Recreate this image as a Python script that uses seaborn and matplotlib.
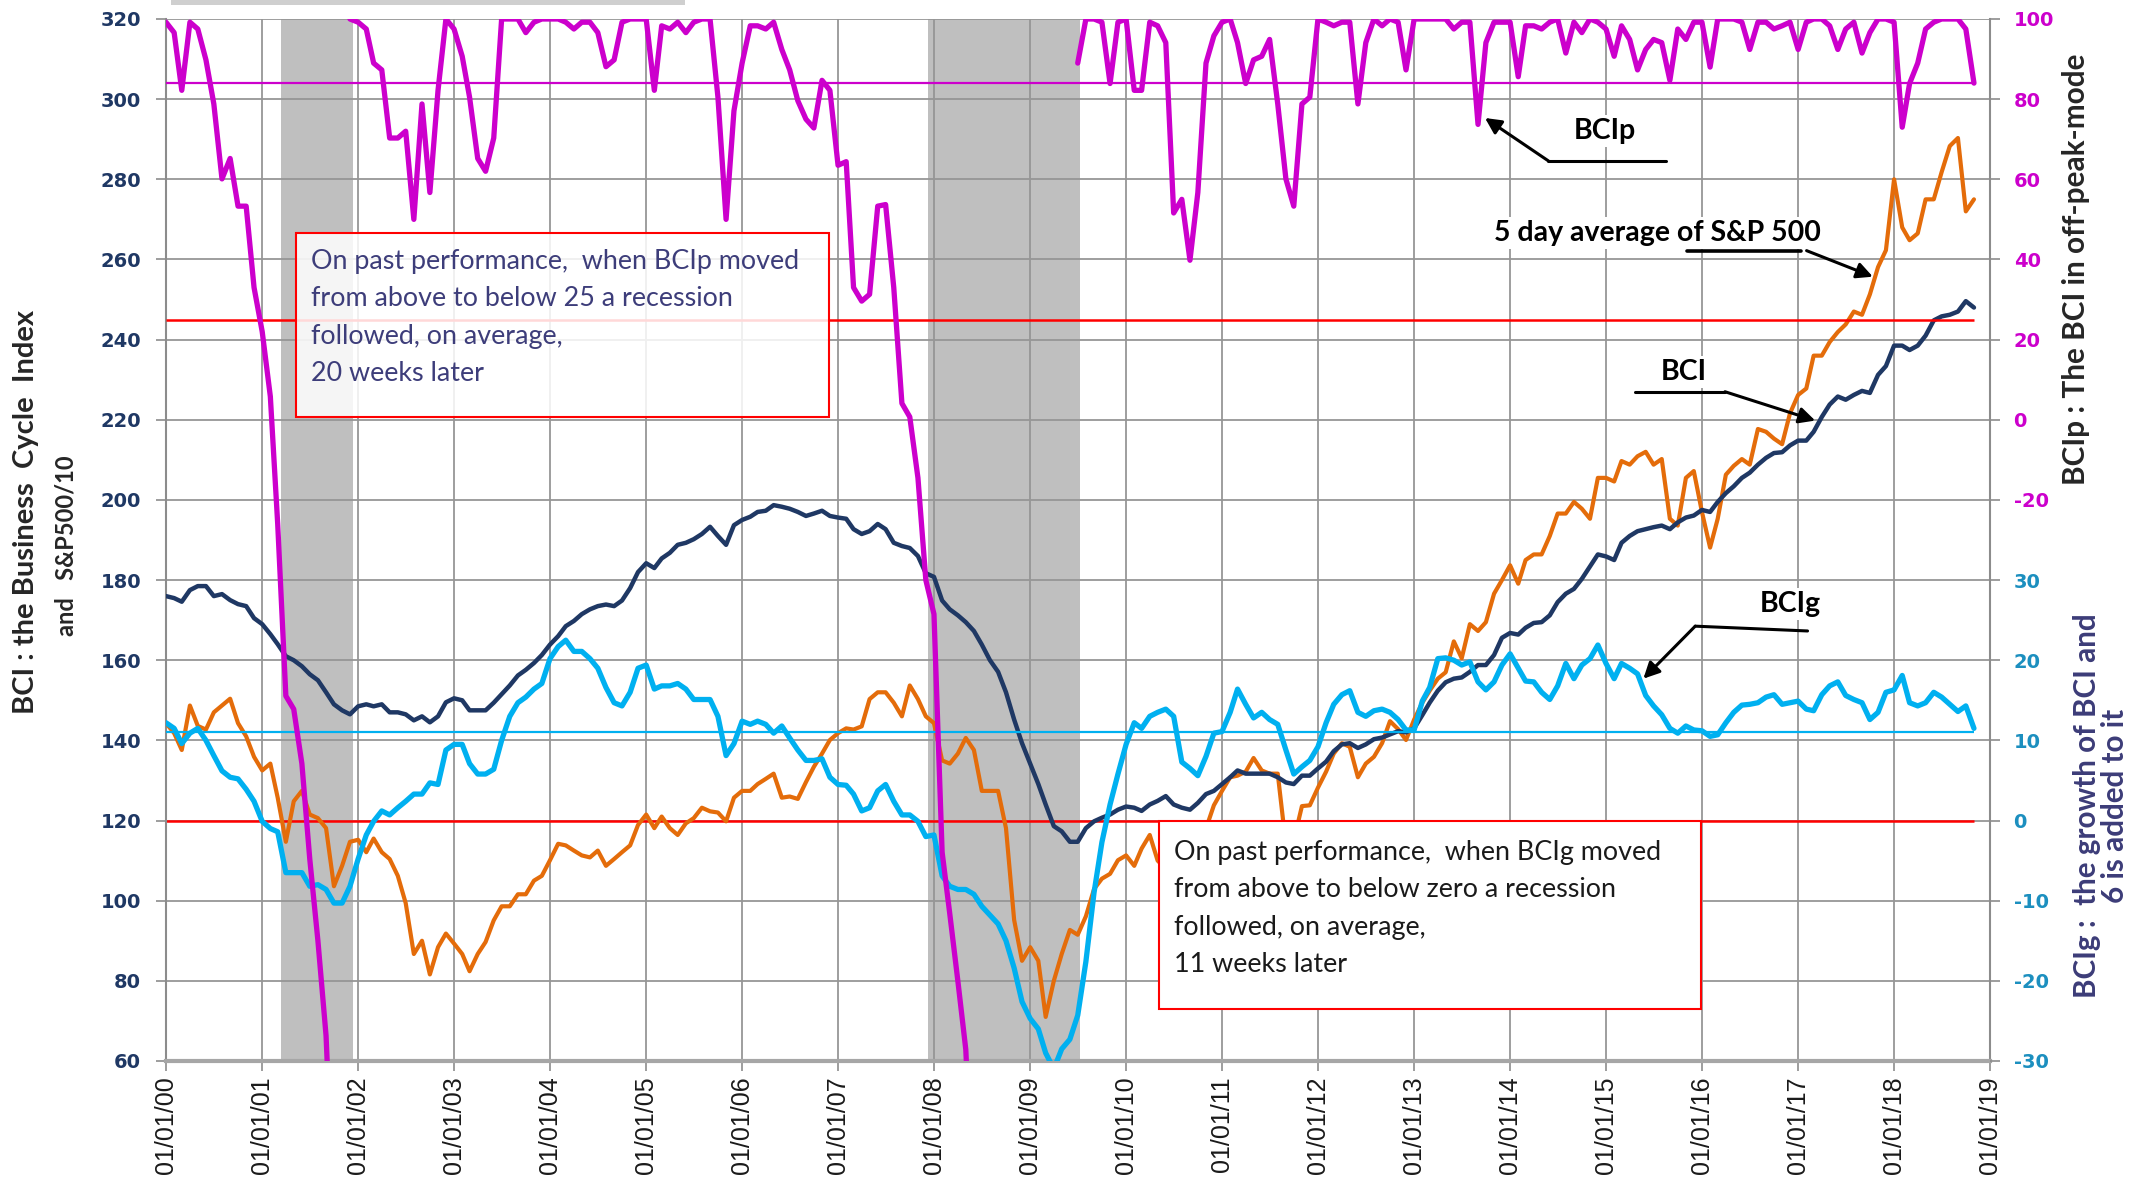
import numpy as np
import pandas as pd
import matplotlib
matplotlib.use("Agg")
import matplotlib.pyplot as plt
import matplotlib.dates as mdates
from matplotlib.patches import Rectangle
import seaborn as sns

nan = np.nan

# monthly readings, Jan 2000 .. Nov 2018
months = pd.date_range("2000-01-01", "2018-11-01", freq="MS")

# BCI (left axis)
bci = [
    176, 175.5, 174.6, 177.5, 178.5, 178.5, 176, 176.5, 175, 174, 173.5, 170.5,
    169, 166.5, 164, 161, 160, 158.5, 156.5, 155, 152, 149, 147.5, 146.5,
    148.5, 149, 148.5, 149, 147, 147, 146.5, 145, 146, 144.5, 146, 149.5,
    150.5, 150, 147.5, 147.5, 147.5, 149.4, 151.5, 153.7, 156.2, 157.6, 159.3, 161.3,
    163.9, 166, 168.5, 169.8, 171.5, 172.7, 173.5, 173.9, 173.5, 174.9, 178, 182,
    184.2, 183, 185.4, 186.8, 188.8, 189.3, 190.2, 191.5, 193.3, 191, 188.8, 193.7,
    195, 195.8, 197, 197.3, 198.7, 198.3, 197.8, 197, 196, 196.6, 197.3, 196,
    195.6, 195.3, 192.7, 191.5, 192.2, 194, 192.7, 189.3, 188.5, 188, 186, 181.7,
    180.8, 174.9, 172.7, 171.2, 169.5, 167.3, 163.9, 160, 157.1, 152, 145.2, 139.3,
    134.2, 129.1, 124, 118.6, 117.3, 114.7, 114.7, 118.1, 119.8, 120.7, 121.5, 122.7,
    123.5, 123.2, 122.4, 124, 124.9, 126.1, 124, 123.2, 122.7, 124.4, 126.6, 127.4,
    129.1, 130.8, 132.5, 131.7, 131.7, 131.7, 131.7, 130.8, 129.5, 129.1, 131.2, 131.2,
    133, 134.7, 137.3, 139, 139.3, 138.1, 139, 140.3, 140.7, 141.5, 142.3, 142,
    143, 146.3, 149.4, 152.4, 154.5, 155.4, 155.7, 157.1, 158.8, 158.8, 161.3, 165.6,
    166.8, 166.4, 168.1, 169.3, 169.5, 171.2, 174.5, 176.6, 177.8, 180.3, 183.4, 186.4,
    185.9, 185, 189.3, 191, 192.2, 192.7, 193.2, 193.6, 192.7, 194.4, 195.6, 196.1,
    197.5, 197, 199.5, 201.7, 203.4, 205.5, 206.8, 208.8, 210.5, 211.7, 211.9, 213.6,
    214.8, 214.8, 217, 220.7, 223.8, 225.8, 225, 226.2, 227.2, 226.7, 231.2, 233.4,
    238.5, 238.5, 237.4, 238.5, 241, 244.8, 245.8, 246.2, 247, 249.6, 248,
]

# 5 day average of S&P 500 divided by 10 (left axis)
sp500_div10 = [
    144.3, 141.8, 137.6, 148.7, 143.6, 142.7, 147, 148.7, 150.4, 144.3, 141, 135.9,
    132.5, 134.2, 125.7, 114.7, 124.8, 127.4, 121.5, 120.6, 118.1, 103.6, 108.7, 114.7,
    115.2, 112.1, 115.5, 112.1, 110.4, 106.2, 99.4, 86.7, 90, 81.6, 88.4, 91.8,
    89.3, 86.7, 82.4, 86.7, 89.7, 95.1, 98.6, 98.6, 101.6, 101.6, 105, 106.2,
    110.1, 114.2, 113.8, 112.5, 111.3, 110.8, 112.5, 108.7, 110.4, 112.1, 113.8, 118.9,
    121.5, 118.1, 121, 118.1, 116.4, 119.3, 120.6, 123.2, 122.3, 122, 119.8, 125.7,
    127.4, 127.4, 129.1, 130.4, 131.7, 125.7, 126, 125.4, 129.6, 133.4, 136.7, 140.1,
    141.8, 143, 142.7, 143.5, 150.3, 152, 152, 149.4, 146, 153.7, 150.3, 146,
    144.3, 135, 134.2, 136.7, 140.6, 137.6, 127.4, 127.4, 127.4, 118.1, 95.2, 85,
    88.4, 85, 71, 80, 86.7, 92.7, 91.5, 96.1, 102.9, 105.5, 106.7, 110.1,
    111.3, 108.7, 113, 116.4, 110, 108, 105, 109, 110, 114, 118, 123.8,
    127.4, 130.8, 131.2, 132.2, 135.6, 132.5, 131.7, 131.7, 114, 115, 123.6, 123.8,
    128.2, 132.2, 136.7, 139.3, 138.4, 130.8, 134.2, 135.9, 139.3, 144.8, 142.8, 140.1,
    145.2, 149.4, 152.4, 155.4, 157, 164.7, 160.5, 169, 167.3, 169.5, 176.6, 180,
    183.7, 179.1, 185, 186.4, 186.4, 191, 196.6, 196.6, 199.5, 197.8, 195.3, 205.5,
    205.5, 204.6, 209.7, 208.8, 210.9, 212, 208.8, 210.2, 195.3, 193.6, 205.5, 207.2,
    197, 188.1, 195.3, 206.3, 208.5, 210.2, 208.8, 217.7, 217, 215.3, 213.9, 221.6,
    226.2, 227.8, 236, 236, 239.4, 241.9, 243.8, 247, 246.2, 251.3, 258.1, 262.3,
    280, 268, 264.8, 266.5, 275, 275, 281.8, 288.3, 290.3, 272, 275,
]

# BCIg (lower right axis)
bcig = [
    12.2, 11.5, 9.6, 10.9, 11.5, 10, 8.1, 6.2, 5.4, 5.2, 3.9, 2.4,
    -0.1, -1, -1.4, -6.5, -6.5, -6.5, -8.2, -8, -8.6, -10.3, -10.3, -8.2,
    -4.8, -1.8, -0.1, 1.2, 0.7, 1.6, 2.4, 3.3, 3.3, 4.7, 4.5, 8.8,
    9.5, 9.5, 7.1, 5.8, 5.8, 6.4, 10, 13, 14.7, 15.4, 16.4, 17.1,
    20.2, 21.7, 22.5, 21.1, 21.1, 20.2, 19, 16.6, 14.7, 14.3, 16, 19,
    19.4, 16.4, 16.8, 16.8, 17.1, 16.4, 15.1, 15.1, 15.1, 13, 8.1, 9.6,
    12.4, 12, 12.4, 12, 10.9, 11.8, 10.3, 8.8, 7.5, 7.5, 7.7, 5.4,
    4.5, 4.4, 3.3, 1.2, 1.6, 3.7, 4.5, 2.4, 0.7, 0.7, -0.1, -2,
    -1.8, -6.9, -8.2, -8.6, -8.6, -9.2, -10.7, -11.8, -12.9, -15, -18.4, -22.6,
    -24.7, -26, -29, -31, -28.5, -27.3, -24.3, -17.6, -9, -2.7, 2, 5.8,
    9.5, 12.2, 11.5, 13, 13.5, 13.9, 13, 7.3, 6.5, 5.6, 8, 10.9,
    11.1, 13.5, 16.4, 14.5, 12.8, 13.5, 12.6, 12, 8.8, 5.8, 6.7, 7.5,
    9.2, 12.2, 14.5, 15.7, 16.2, 13.5, 13, 13.7, 13.9, 13.5, 12.6, 11.3,
    11.3, 14.9, 16.6, 20.2, 20.3, 20, 19.4, 19.8, 17.3, 16.3, 17.3, 19.4,
    20.8, 19, 17.4, 17.3, 16, 15.1, 16.8, 19.6, 17.7, 19.4, 20.2, 21.9,
    19.6, 17.7, 19.6, 19, 18.3, 15.6, 14.3, 13.2, 11.5, 10.9, 11.8, 11.3,
    11.2, 10.5, 10.7, 12.2, 13.5, 14.4, 14.5, 14.7, 15.4, 15.7, 14.5, 14.7,
    14.9, 13.9, 13.7, 15.7, 16.8, 17.3, 15.6, 15.1, 14.7, 12.6, 13.5, 16,
    16.3, 18.1, 14.7, 14.3, 14.7, 16, 15.4, 14.5, 13.6, 14.3, 11.5,
]

# BCIp (upper right axis); nan where the line is off the chart
bcip = [
    99.2, 96.6, 82.2, 99.2, 97.5, 89.8, 78.8, 60.1, 65.2, 53.3, 53.3, 33,
    22, 5.8, -26, -68.9, -72.2, -85.8, -109.6, -130, -153.7, -200, nan, 100,
    99.2, 97.5, 89, 87.3, 70.3, 70.3, 72, 50, 78.8, 56.7, 82.2, 100,
    97.5, 90.7, 80.5, 65.2, 62, 70.3, 100, 100, 100, 96.6, 99.2, 100,
    100, 100, 99.2, 97.5, 99.2, 99.2, 96.6, 88.1, 89.8, 99.2, 100, 100,
    100, 82.2, 98.3, 97.5, 99.2, 96.6, 99.2, 100, 100, 80.5, 50, 77.1,
    89, 98.3, 98.3, 97.5, 99.2, 92.4, 87.3, 79.6, 75, 72.8, 84.7, 82.2,
    63.5, 64.4, 33, 29.6, 31.3, 53.3, 53.7, 33, 4.1, 0.7, -14.5, -40,
    -48.5, -107.9, -123.2, -140.1, -157.1, -200, nan, nan, nan, nan, nan, nan,
    nan, nan, nan, nan, nan, nan, 89, 100, 100, 99.2, 83.9, 99.2,
    100, 82.2, 82.2, 99.2, 98.3, 94.1, 51.6, 55, 39.8, 56.7, 89, 95.8,
    99.2, 100, 94.1, 83.9, 89.8, 90.7, 94.9, 78.8, 60.1, 53.3, 78.8, 80.5,
    100, 99.2, 98.3, 99.2, 99.2, 78.8, 94.1, 100, 98.3, 100, 99.2, 87.3,
    100, 100, 100, 100, 100, 97.5, 99.2, 99.2, 73.7, 94.1, 99.2, 99.2,
    99.2, 85.6, 98.3, 98.3, 97.5, 99.2, 100, 91.5, 99.2, 96.6, 100, 99.2,
    97.5, 90.7, 98.3, 94.9, 87.3, 92.4, 94.9, 94.1, 84.7, 97.5, 94.9, 99.2,
    99.2, 88, 100, 100, 100, 99.2, 92.4, 99.2, 99.2, 97.5, 98.3, 99.2,
    92.4, 99.2, 100, 100, 98.3, 92.4, 97.5, 99.2, 91.5, 96.6, 100, 100,
    99.2, 73, 83.9, 89, 97.5, 99.2, 100, 100, 100, 97.5, 84,
]

bcip_trigger = 25
bcip_mean = 84
bcig_trigger = 0
bcig_mean = 11

recessions = [("2001-03-15", "2001-12-12"), ("2007-12-10", "2009-07-08")]
year_ticks = pd.date_range("2000-01-01", "2019-01-01", freq="YS")
left_ticks = list(range(60, 321, 20))
bcip_ticks = [-20, 0, 20, 40, 60, 80, 100]
bcig_ticks = [-30, -20, -10, 0, 10, 20, 30]

box1_text = ("On past performance,  when BCIp moved\nfrom above to below 25 a recession\n"
             "followed, on average,\n20 weeks later")
box2_text = ("On past performance,  when BCIg moved\nfrom above to below zero a recession\n"
             "followed, on average,\n11 weeks later")

NAVY = "#1F3864"
ORANGE = "#E46C0A"
CYAN = "#00B0F0"
PINK = "#CC00CC"
RED = "#FF0000"
GRID = "#969696"
LABEL_FONT = ["Lato", "DejaVu Sans"]

sns.set_style("white")
plt.rcParams["font.family"] = ["DejaVu Sans"]

W, H = 2146, 1195
fig = plt.figure(figsize=(W / 100, H / 100), dpi=100)
ax = fig.add_axes([166 / W, 1 - 1061 / H, (1990 - 166) / W, (1061 - 19) / H])
ax_g = ax.twinx()
ax_p = ax.twinx()

df = pd.DataFrame({"date": months, "bci": bci, "sp": sp500_div10,
                   "bcig": bcig, "bcip": bcip})
df["seg"] = df["bcip"].isna().cumsum()
dfp = df.dropna(subset=["bcip"])


def yr(y):
    return mdates.date2num(pd.Timestamp("2000-01-01")) + (y - 2000) * 365.25


# recessions
for a, b in recessions:
    ax.axvspan(pd.Timestamp(a), pd.Timestamp(b), color="#BFBFBF", lw=0, zorder=0.2)

ax.hlines(120, months[0], months[-1], color=RED, lw=1.8, zorder=2)
ax_p.hlines(bcip_trigger, months[0], months[-1], color=RED, lw=1.8, zorder=1)
ax_p.hlines(bcip_mean, months[0], months[-1], color=PINK, lw=1.6, zorder=1)
ax_g.hlines(bcig_mean, months[0], months[-1], color=CYAN, lw=1.6, zorder=1)

sns.lineplot(data=df, x="date", y="sp", ax=ax, color=ORANGE, lw=3.0, legend=False, zorder=3)
sns.lineplot(data=df, x="date", y="bci", ax=ax, color=NAVY, lw=3.2, legend=False, zorder=4)
sns.lineplot(data=df, x="date", y="bcig", ax=ax_g, color=CYAN, lw=3.8, legend=False, zorder=3)
sns.lineplot(data=dfp, x="date", y="bcip", units="seg", estimator=None, ax=ax_p,
             color=PINK, lw=3.8, legend=False, zorder=3)

for a in (ax, ax_g, ax_p):
    a.set_xlabel("")
    a.set_ylabel("")

ax.set_xlim(year_ticks[0], year_ticks[-1])
ax.set_ylim(60, 320)
ax_p.set_ylim(-160, 100)
ax_g.set_ylim(-30, 100)

ax.grid(True, color=GRID, lw=1.3)
ax.set_axisbelow(True)
ax_g.grid(False)
ax_p.grid(False)

ax.set_yticks(left_ticks, labels=[str(t) for t in left_ticks], fontweight="bold",
              fontsize=14, color=NAVY)
ax.set_xticks(year_ticks, labels=[d.strftime("%m/%d/%y") for d in year_ticks],
              rotation=90, fontsize=18, family="Liberation Sans", color="#1a1a1a")
ax.tick_params(axis="y", left=True, length=7, width=1.2, color="#8c8c8c", pad=11)
ax.tick_params(axis="x", bottom=True, length=7, width=1.2, color="#8c8c8c", pad=4)

ax_p.set_yticks(bcip_ticks, labels=[str(t) for t in bcip_ticks], fontweight="bold",
                fontsize=14, color=PINK)
ax_g.set_yticks(bcig_ticks, labels=[str(t) for t in bcig_ticks], fontweight="bold",
                fontsize=14, color="#1C8FBF")
for a in (ax_p, ax_g):
    a.tick_params(axis="y", right=True, left=False, labelright=True, labelleft=False,
                  length=7, width=1.2, color="#8c8c8c", pad=10)
    for s in a.spines.values():
        s.set_visible(False)

ax.spines["top"].set_visible(False)
for s in ("left", "right"):
    ax.spines[s].set_color("#8c8c8c")
    ax.spines[s].set_linewidth(1.5)
ax.spines["bottom"].set_color("#a6a6a6")
ax.spines["bottom"].set_linewidth(3)

# text boxes (drawn on the top axes, in left-axis coordinates)
tr = ax.transData
ax_p.add_patch(Rectangle((yr(2001.354), 220.7), yr(2006.906) - yr(2001.354), 45.9,
                         transform=tr, facecolor="white", alpha=0.85, edgecolor="none", zorder=5))
ax_p.add_patch(Rectangle((yr(2001.354), 220.7), yr(2006.906) - yr(2001.354), 45.9,
                         transform=tr, facecolor="none", edgecolor=RED, lw=1.5, zorder=6))
ax_p.text(yr(2001.51), 262.6, box1_text, transform=tr, fontsize=19.4, family=LABEL_FONT,
          color="#3d3d7a", va="top", ha="left", linespacing=1.62, zorder=7)

ax_p.add_patch(Rectangle((yr(2010.344), 73), yr(2015.995) - yr(2010.344), 46.9,
                         transform=tr, facecolor="white", edgecolor=RED, lw=1.5, zorder=5))
ax_p.text(yr(2010.5), 115.2, box2_text, transform=tr, fontsize=19.4, family=LABEL_FONT,
          color="#1a1a1a", va="top", ha="left", linespacing=1.62, zorder=7)

# series labels with pointers
lab = dict(transform=tr, fontsize=20.5, fontweight="bold", family=LABEL_FONT, color="black",
           ha="center", va="center", zorder=8,
           bbox=dict(facecolor="white", edgecolor="none", pad=2))
arrow = dict(arrowstyle="-|>", color="black", lw=2.2, mutation_scale=24, shrinkA=0, shrinkB=0)

ax_p.text(yr(2014.99), 292, "BCIp", **lab)
ax_p.plot([yr(2015.63), yr(2014.40)], [284.6, 284.6], color="black", lw=2.2, transform=tr, zorder=8)
ax_p.annotate("", xy=(yr(2013.74), 295.3), xytext=(yr(2014.40), 284.6),
              xycoords=tr, textcoords=tr, arrowprops=arrow, zorder=8)

ax_p.text(yr(2015.54), 266.6, "5 day average of S&P 500", **lab)
ax_p.plot([yr(2015.84), yr(2017.03)], [262.2, 262.2], color="black", lw=2.6, transform=tr, zorder=9)
ax_p.annotate("", xy=(yr(2017.78), 255.7), xytext=(yr(2017.09), 262.2),
              xycoords=tr, textcoords=tr, arrowprops=arrow, zorder=8)

ax_p.text(yr(2015.81), 232, "BCI", **lab)
ax_p.plot([yr(2015.30), yr(2016.24)], [227, 227], color="black", lw=2.2, transform=tr, zorder=8)
ax_p.annotate("", xy=(yr(2017.18), 219.8), xytext=(yr(2016.24), 227),
              xycoords=tr, textcoords=tr, arrowprops=arrow, zorder=8)

ax_p.text(yr(2016.92), 174, "BCIg", **lab)
ax_p.plot([yr(2017.1), yr(2015.93)], [167.3, 168.5], color="black", lw=2.2, transform=tr, zorder=8)
ax_p.annotate("", xy=(yr(2015.39), 155.4), xytext=(yr(2015.93), 168.5),
              xycoords=tr, textcoords=tr, arrowprops=arrow, zorder=8)

# axis titles
fig.text(26 / W, 1 - 512 / H, "BCI : the Business  Cycle  Index", rotation=90,
         ha="center", va="center", fontsize=21, fontweight="bold", family=LABEL_FONT)
fig.text(66 / W, 1 - 546 / H, "and   S&P500/10", rotation=90,
         ha="center", va="center", fontsize=17, fontweight="bold", family=LABEL_FONT)
fig.text(2076 / W, 1 - 269 / H, "BCIp : The BCI in off-peak-mode", rotation=90,
         ha="center", va="center", fontsize=21.4, fontweight="bold", family=LABEL_FONT)
fig.text(2101 / W, 1 - 806 / H, "BCIg :  the growth of BCI and\n6 is added to it", rotation=90,
         ha="center", va="center", multialignment="center", fontsize=21.3,
         fontweight="bold", family=LABEL_FONT, color="#3c3c78", linespacing=1.0)

# shadow of a box above the chart
fig.patches.append(Rectangle((171 / W, 1 - 5 / H), 514 / W, 5 / H, transform=fig.transFigure,
                             facecolor="#cfcfcf", edgecolor="none"))

fig.savefig("out.png", dpi=100)
